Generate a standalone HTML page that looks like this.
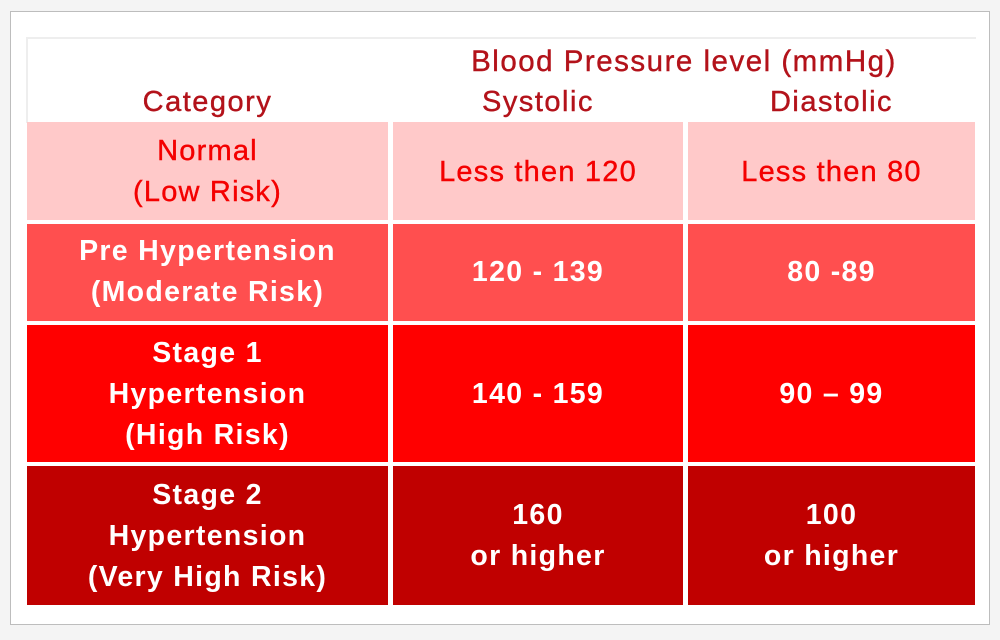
<!DOCTYPE html>
<html><head><style>
html,body{margin:0;padding:0;}
body{width:1000px;height:640px;position:relative;background:#f4f4f4;overflow:hidden;font-family:"Liberation Sans",sans-serif;}
.panel{position:absolute;left:10px;top:11px;width:980px;height:614px;background:#fff;border:1px solid #bdbdbd;box-sizing:border-box;}
.c{position:absolute;box-sizing:border-box;}
.t{position:absolute;text-align:center;font-size:29px;line-height:41px;white-space:nowrap;-webkit-text-stroke:0.4px currentColor;}
.h{color:#b3121a;letter-spacing:1.5px;}
.r1{color:#f40000;letter-spacing:1.2px;}
.w{color:#fff;font-weight:bold;font-size:28.5px;letter-spacing:1.3px;-webkit-text-stroke:0;}
</style></head><body>
<div class="panel"></div>
<div class="c" style="left:26px;top:37px;width:950px;height:2px;background:#eee"></div>
<div class="c" style="left:26px;top:37px;width:2px;height:86px;background:#eee"></div>
<div class="c" style="left:27px;top:122px;width:361px;height:98px;background:#ffc9c9"></div>
<div class="c" style="left:393px;top:122px;width:290px;height:98px;background:#ffc9c9"></div>
<div class="c" style="left:688px;top:122px;width:287px;height:98px;background:#ffc9c9"></div>

<div class="c" style="left:27px;top:224px;width:361px;height:97px;background:#ff4f4f"></div>
<div class="c" style="left:393px;top:224px;width:290px;height:97px;background:#ff4f4f"></div>
<div class="c" style="left:688px;top:224px;width:287px;height:97px;background:#ff4f4f"></div>

<div class="c" style="left:27px;top:325px;width:361px;height:137px;background:#ff0000"></div>
<div class="c" style="left:393px;top:325px;width:290px;height:137px;background:#ff0000"></div>
<div class="c" style="left:688px;top:325px;width:287px;height:137px;background:#ff0000"></div>

<div class="c" style="left:27px;top:466px;width:361px;height:139px;background:#c00000"></div>
<div class="c" style="left:393px;top:466px;width:290px;height:139px;background:#c00000"></div>
<div class="c" style="left:688px;top:466px;width:287px;height:139px;background:#c00000"></div>

<div class="t h" style="left:393px;width:582px;top:41px;font-size:29.5px">Blood Pressure level (mmHg)</div>
<div class="t h" style="left:27px;width:361px;top:82px">Category</div>
<div class="t h" style="left:393px;width:290px;top:82px">Systolic</div>
<div class="t h" style="left:688px;width:287px;top:82px">Diastolic</div>

<div class="t r1" style="left:27px;width:361px;top:131px">Normal<br>(Low Risk)</div>
<div class="t r1" style="left:393px;width:290px;top:152px">Less then 120</div>
<div class="t r1" style="left:688px;width:287px;top:152px">Less then 80</div>

<div class="t w" style="left:27px;width:361px;top:231px">Pre Hypertension<br>(Moderate Risk)</div>
<div class="t w" style="left:393px;width:290px;top:252px">120 - 139</div>
<div class="t w" style="left:688px;width:287px;top:252px">80 -89</div>

<div class="t w" style="left:27px;width:361px;top:333px">Stage 1<br>Hypertension<br>(High Risk)</div>
<div class="t w" style="left:393px;width:290px;top:374px">140 - 159</div>
<div class="t w" style="left:688px;width:287px;top:374px">90 – 99</div>

<div class="t w" style="left:27px;width:361px;top:475px">Stage 2<br>Hypertension<br>(Very High Risk)</div>
<div class="t w" style="left:393px;width:290px;top:495px">160<br>or higher</div>
<div class="t w" style="left:688px;width:287px;top:495px">100<br>or higher</div>
</body></html>
